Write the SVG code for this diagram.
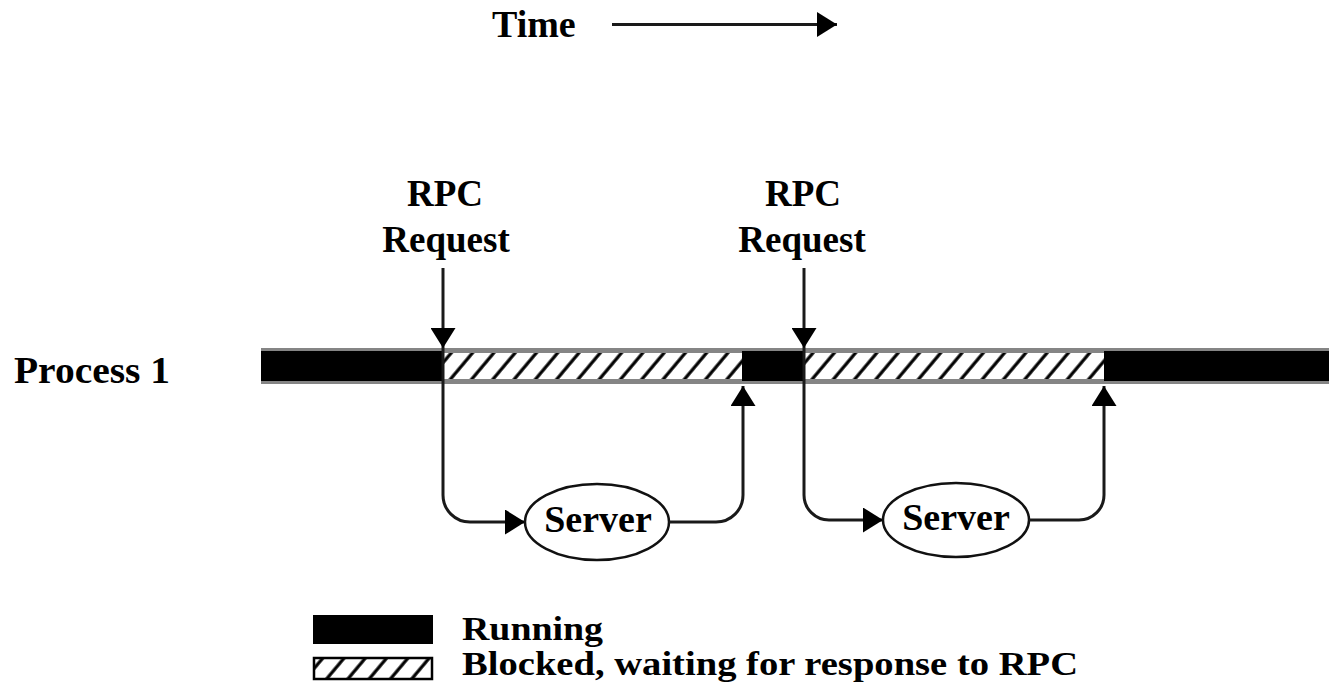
<svg xmlns="http://www.w3.org/2000/svg" width="1329" height="684" viewBox="0 0 1329 684">
  <style>
    .lbl { font-family: "Liberation Serif", "Times New Roman", serif; font-weight: bold; fill: #000; }
    .conn { fill: none; stroke: #1a1a1a; stroke-width: 3; }
    .node { fill: #fff; stroke: #111; stroke-width: 2.5; }
    .run { fill: #000; }
    .blk { fill: url(#hatch); }
  </style>
  <defs>
    <pattern id="hatch" patternUnits="userSpaceOnUse" width="16.3" height="16.3" patternTransform="rotate(40)">
      <rect width="16.3" height="16.3" fill="#fff"/>
      <line x1="2" y1="0" x2="2" y2="16.3" stroke="#000" stroke-width="3.2"/>
    </pattern>
    <marker id="arrow" markerUnits="userSpaceOnUse" viewBox="0 0 20 25" markerWidth="20" markerHeight="25" refX="20" refY="12.5" orient="auto">
      <path d="M0,0 L20,12.5 L0,25 z" fill="#000"/>
    </marker>
  </defs>

  <!-- time axis -->
  <g id="time-axis">
    <text class="lbl" x="492" y="37" font-size="38">Time</text>
    <line x1="612" y1="24.5" x2="837" y2="24.5" class="conn" marker-end="url(#arrow)"/>
  </g>

  <!-- process timeline -->
  <g id="process1">
    <text class="lbl" x="14" y="383" font-size="38" textLength="156" lengthAdjust="spacingAndGlyphs">Process 1</text>
    <rect x="261" y="348" width="1068" height="36" fill="#858585"/>
    <rect class="run" x="261" y="351" width="182" height="30"/>
    <rect class="blk" x="443" y="353" width="299" height="26"/>
    <rect class="run" x="742" y="351" width="62" height="30"/>
    <rect class="blk" x="804" y="353" width="300" height="26"/>
    <rect class="run" x="1104" y="351" width="225" height="30"/>
  </g>

  <!-- request labels -->
  <g id="rpc1-label">
    <text class="lbl" x="445" y="206" font-size="37" text-anchor="middle">RPC</text>
    <text class="lbl" x="446" y="252" font-size="37" text-anchor="middle">Request</text>
  </g>
  <g id="rpc2-label">
    <text class="lbl" x="803" y="206" font-size="37" text-anchor="middle">RPC</text>
    <text class="lbl" x="802" y="252" font-size="37" text-anchor="middle">Request</text>
  </g>

  <!-- servers -->
  <g id="server1">
    <ellipse class="node" cx="597" cy="522" rx="72" ry="38"/>
    <text class="lbl" x="598" y="532" font-size="38" text-anchor="middle">Server</text>
  </g>
  <g id="server2">
    <ellipse class="node" cx="956" cy="520" rx="73" ry="37"/>
    <text class="lbl" x="956" y="530" font-size="38" text-anchor="middle">Server</text>
  </g>

  <!-- connectors -->
  <g id="connectors">
    <line class="conn" x1="443" y1="268" x2="443" y2="348" marker-end="url(#arrow)"/>
    <path class="conn" d="M443,348 V495 A27,27 0 0 0 470,522 H525" marker-end="url(#arrow)"/>
    <path class="conn" d="M669,522 H716 A27,27 0 0 0 743,495 V386" marker-end="url(#arrow)"/>
    <line class="conn" x1="804" y1="268" x2="804" y2="348" marker-end="url(#arrow)"/>
    <path class="conn" d="M804,348 V495 A25,25 0 0 0 829,520 H883" marker-end="url(#arrow)"/>
    <path class="conn" d="M1029,520 H1079 A25,25 0 0 0 1104,495 V386" marker-end="url(#arrow)"/>
  </g>

  <!-- legend -->
  <g id="legend">
    <rect class="run" x="313" y="615" width="120" height="29"/>
    <text class="lbl" x="462" y="640" font-size="33" textLength="141" lengthAdjust="spacingAndGlyphs">Running</text>
    <rect class="blk" x="314" y="658" width="118" height="21" stroke="#000" stroke-width="2.5"/>
    <text class="lbl" x="462" y="675" font-size="33" textLength="616" lengthAdjust="spacingAndGlyphs">Blocked, waiting for response to RPC</text>
  </g>
</svg>
